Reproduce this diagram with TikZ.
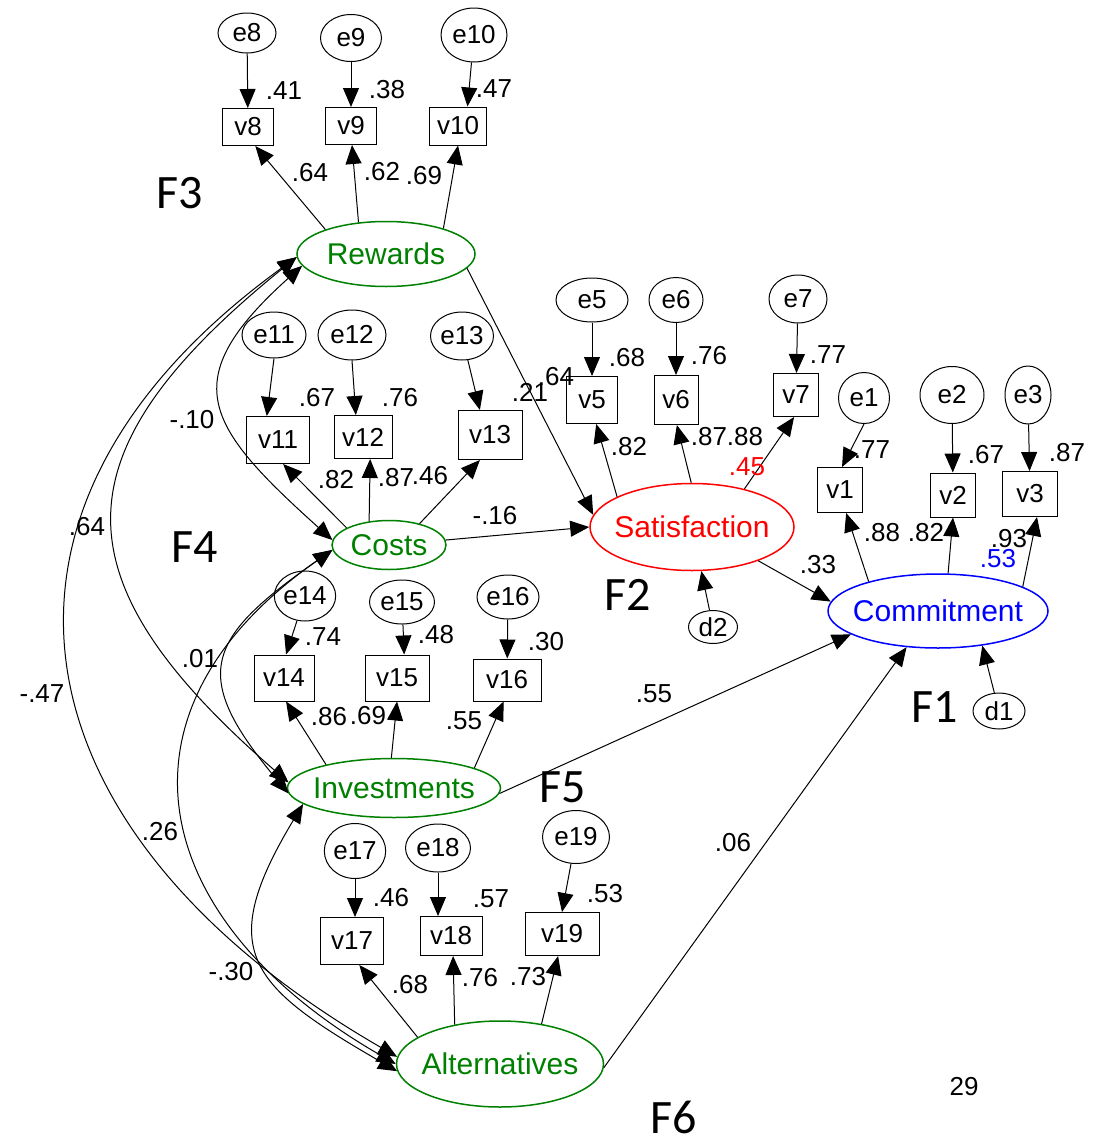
\documentclass[tikz,border=0pt]{standalone}
\usepackage{fontspec}
\setmainfont{Liberation Sans}
\newfontfamily\calibri{Carlito}
\usetikzlibrary{arrows.meta,shapes.geometric}
\definecolor{latgreen}{RGB}{0,128,0}
\tikzset{
  >={Triangle[length=19pt,width=16pt]},
  obs/.style={draw,rectangle,inner sep=0pt,line width=1pt,font=\fontsize{26}{30}\selectfont},
  err/.style={draw,ellipse,inner sep=0pt,line width=1pt,font=\fontsize{26}{30}\selectfont},
  lat/.style={draw,ellipse,inner ysep=0pt,inner xsep=-8pt,line width=1.5pt,font=\fontsize{30}{36}\selectfont},
  coef/.style={inner sep=0pt,font=\fontsize{26}{30}\selectfont},
  flab/.style={inner sep=0pt,font=\calibri\fontsize{48}{56}\selectfont},
  arr/.style={->,line width=1pt},
  cov/.style={<->,line width=1pt}
}
\begin{document}
\begin{tikzpicture}[x=1pt,y=1pt]
  \useasboundingbox (0,0) rectangle (1100,-1138);
  % latent factors, their indicators and the error terms
  \node[lat,draw=latgreen,text=latgreen,minimum width=178,minimum height=65] (Rewards) at (386,-254) {Rewards};
  \node[lat,draw=latgreen,text=latgreen,minimum width=114,minimum height=49] (Costs) at (389,-545) {Costs};
  \node[lat,draw=latgreen,text=latgreen,minimum width=213,minimum height=59] (Investments) at (394,-788) {Investments};
  \node[lat,draw=latgreen,text=latgreen,minimum width=207,minimum height=86] (Alternatives) at (500,-1064) {Alternatives};
  \node[lat,draw=red,text=red,minimum width=204,minimum height=87] (Satisfaction) at (692,-527) {Satisfaction};
  \node[lat,draw=blue,text=blue,minimum width=220,minimum height=74] (Commitment) at (938,-611) {Commitment};
  \foreach \n/\x/\y/\w/\h in {v8/248/127/51/37,v9/351/126/51/37,v10/458/126/57/38,
      v5/592/400/51/47,v6/676/400/44/49,v7/796/395/45/43,v1/840/490/45/45,v2/953/495/45/44,v3/1030/494/55/45,
      v11/278/440/63/47,v12/363/437/58/43,v13/490/435/64/49,v14/284/678/60/46,v15/397/678/64/46,v16/507/680/68/42,
      v17/352/941/63/47,v18/451/936/62/39,v19/562/934/74/43}
    {\node[obs,minimum width=\w,minimum height=\h] (\n) at (\x,-\y) {\n};}
  \foreach \n/\x/\y/\w/\h in {e8/247/33/58/40,e9/351/38/61/47,e10/474/35/66/54,
      e5/592/300/72/44,e6/676/300/54/45,e7/798/299/58/48,e1/864/398/51/51,e2/952/395/64/57,e3/1028/395/46/58,
      e11/274/335/64/46,e12/352/335/68/50,e13/462/336/63/48,e14/305/596/61/50,e15/402/602/65/44,e16/508/597/62/44,
      e17/355/851/61/55,e18/438/848/65/48,e19/576/837/67/53,d1/999/711/52/36,d2/713/627/49/33}
    {\node[err,minimum width=\w,minimum height=\h] (\n) at (\x,-\y) {\n};}
  % errors to indicators
  \foreach \a/\b in {e8/v8,e9/v9,e5/v5,e6/v6,e7/v7,e2/v2,e3/v3,e16/v16}
    {\draw[arr] (\a) -- (\b);}
  \draw[arr] (e10) -- (v10.64);
  \draw[arr] (e1.south) -- (v1.85);
  \draw[arr] (e11.south) -- (v11.115);
  \draw[arr] (e12.south) -- (v12.108);
  \draw[arr] (e13) -- (v13.112);
  \draw[arr] (e14) -- (v14.85);
  \draw[arr] (e15) -- (v15.73);
  \draw[arr] (e17) -- (e17 |- v17.north);
  \draw[arr] (e18) -- (e18 |- v18.north);
  \draw[arr] (e19) -- (v19.north);
  % loadings
  \draw[arr] (Rewards.158) -- (v8.-69);
  \draw[arr] (Rewards.131) -- (v9.-87);
  \draw[arr] (Rewards.24) -- (v10.south);
  \draw[arr] (Satisfaction.158) -- (v5.-80);
  \draw[arr] (Satisfaction.91) -- (v6.-88);
  \draw[arr] (Satisfaction.36) -- (v7.-95);
  \draw[arr] (Commitment.157) -- (v1.-75);
  \draw[arr] (Commitment.75) -- (v2.south);
  \draw[arr] (Commitment.16) -- (v3.-73);
  \draw[arr] (Costs.158) -- (v11.-78);
  \draw[arr] (Costs.130) -- (v12.-72);
  \draw[arr] (Costs.35) -- (v13.-112);
  \draw[arr] (Investments.161) -- (v14.-85);
  \draw[arr] (Investments.95) -- (v15.south);
  \draw[arr] (Investments.14) -- (v16.-99);
  \draw[arr] (Alternatives.162) -- (v17.-73);
  \draw[arr] (Alternatives.139) -- (v18.-84);
  \draw[arr] (Alternatives.44) -- (v19.-100);
  % structural paths and disturbances
  \draw[arr] (Rewards.-10) -- (Satisfaction.173);
  \draw[arr] (Costs.5) -- (Satisfaction.180);
  \draw[arr] (Satisfaction.-27) -- (Commitment.175);
  \draw[arr] (Investments.-3) -- (Commitment.195);
  \draw[arr] (Alternatives.-2) -- (Commitment.229);
  \draw[arr] (d2) -- (Satisfaction.-78);
  \draw[arr] (d1) -- (Commitment.-38);
  % covariances among the exogenous factors
  \draw[cov] (Rewards.188) to[out=222,in=138,looseness=1.59] (Costs.175);
  \draw[cov] (Rewards.182) to[out=219,in=139,looseness=1.51] (Investments.177);
  \draw[cov] (Rewards.182) to[out=216,in=150,looseness=1.39] (Alternatives.176);
  \draw[cov] (Costs.185) to[out=215,in=130,looseness=1.6] (Investments.183);
  \draw[cov] (Costs.185) to[out=215,in=150,looseness=1.41] (Alternatives.180);
  \draw[cov] (Investments.190) to[out=239,in=150,looseness=1.55] (Alternatives.184);
  % estimates
  \foreach \lbl/\x/\y [count=\i] in {.41/284/91,.38/387/90,.47/494/89,.64/310/173,.62/382/172,.69/424/176,
      .68/627/358,.76/709/356,.77/828/355,.64/556/377,.21/530/392,.82/629/447,.87/709/437,.88/745/437,
      .77/872/450,.67/986/455,.87/1067/453,.88/882/533,.82/926/533,.93/1009/539,
      .33/818/565,.55/654/694,.06/733/843,
      -.10/192/420,.67/317/398,.76/400/398,.82/336/480,.87/396/478,.46/430/476,-.16/495/516,
      .64/87/527,.74/323/637,.48/436/635,.30/546/642,.01/200/659,-.47/42/694,.86/329/717,.69/368/716,.55/464/721,
      .26/160/832,.46/391/898,.57/491/899,.53/605/894,.68/410/985,.76/480/978,.73/528/977,-.30/231/972}
    {\node[coef] (k\i) at (\x,-\y) {\lbl};}
  \node[coef,text=red] (r2sat) at (747,-467) {.45};
  \node[coef,text=blue] (r2com) at (998,-559) {.53};
  \node[coef] (page) at (964,-1087) {29};
  \foreach \lbl/\x/\y in {F1/935/707,F2/628/595,F3/180/193,F4/195/547,F5/563/787,F6/674/1117}
    {\node[flab] (\lbl) at (\x,-\y) {\lbl};}
\end{tikzpicture}
\end{document}
